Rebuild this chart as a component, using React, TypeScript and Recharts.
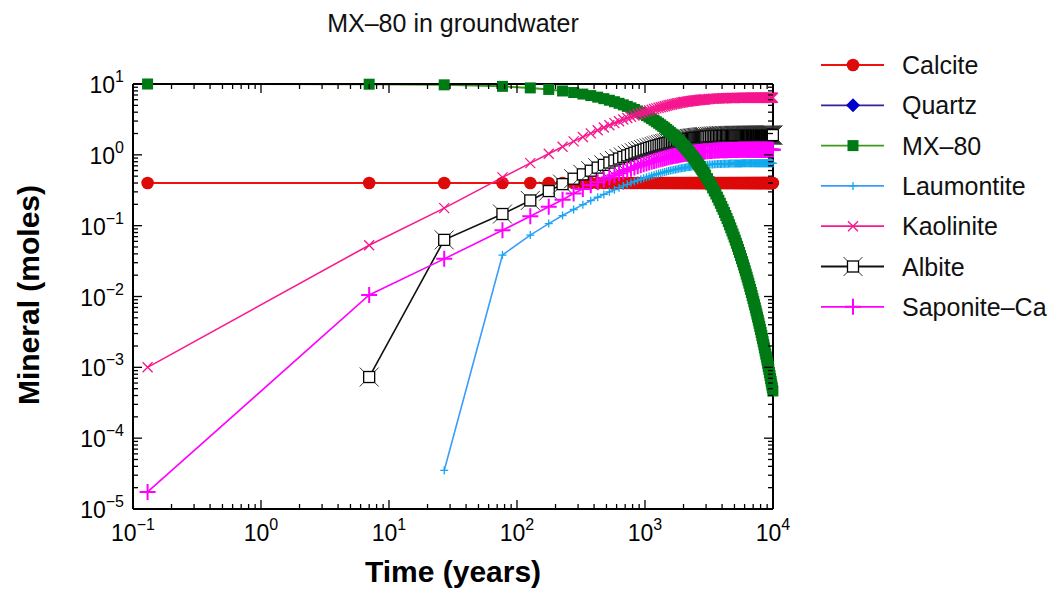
import React from 'react';
import { LineChart, Line, XAxis, YAxis } from 'recharts';

const FONT = '"Liberation Sans", Arial, Helvetica, sans-serif';

// Time (years)
const TIMES = [
  0.13, 7, 27,
  77, 127, 177, 227, 277, 327, 377, 427, 477, 527, 577, 627, 677, 727, 777, 827, 877, 927, 977,
  1027, 1077, 1127, 1177, 1227, 1277, 1327, 1377, 1427, 1477, 1527, 1577, 1627, 1677, 1727, 1777, 1827, 1877, 1927, 1977,
  2027, 2077, 2127, 2177, 2227, 2277, 2327, 2377, 2427, 2477, 2527, 2577, 2627, 2677, 2727, 2777, 2827, 2877, 2927, 2977,
  3077, 3177, 3277, 3377, 3477, 3577, 3677, 3777, 3877, 3977,
  4077, 4177, 4277, 4377, 4477, 4577, 4677, 4777, 4877, 4977,
  5077, 5177, 5277, 5377, 5477, 5577, 5677, 5777, 5877, 5977,
  6077, 6177, 6277, 6377, 6477, 6577, 6677, 6777, 6877, 6977,
  7077, 7177, 7277, 7377, 7477, 7577, 7677, 7777, 7877, 7977,
  8077, 8177, 8277, 8377, 8477, 8577, 8677, 8777, 8877, 8977,
  9077, 9177, 9277, 9377, 9477, 9577, 9677, 9777, 9877, 9977,
];

const CALCITE = [
  0.4, 0.4, 0.4,
  0.4, 0.4, 0.4, 0.4, 0.4, 0.4, 0.4, 0.4, 0.4, 0.4, 0.4, 0.4, 0.4, 0.4, 0.4, 0.4, 0.4, 0.4, 0.4,
  0.4, 0.4, 0.4, 0.4, 0.4, 0.4, 0.4, 0.4, 0.4, 0.4, 0.4, 0.4, 0.4, 0.4, 0.4, 0.4, 0.4, 0.4, 0.4, 0.4,
  0.4, 0.4, 0.4, 0.4, 0.4, 0.4, 0.4, 0.4, 0.4, 0.4, 0.4, 0.4, 0.4, 0.4, 0.4, 0.4, 0.4, 0.4, 0.4, 0.4,
  0.4, 0.4, 0.4, 0.4, 0.4, 0.4, 0.4, 0.4, 0.4, 0.4,
  0.4, 0.4, 0.4, 0.4, 0.4, 0.4, 0.4, 0.4, 0.4, 0.4,
  0.4, 0.4, 0.4, 0.4, 0.4, 0.4, 0.4, 0.4, 0.4, 0.4,
  0.4, 0.4, 0.4, 0.4, 0.4, 0.4, 0.4, 0.4, 0.4, 0.4,
  0.4, 0.4, 0.4, 0.4, 0.4, 0.4, 0.4, 0.4, 0.4, 0.4,
  0.4, 0.4, 0.4, 0.4, 0.4, 0.4, 0.4, 0.4, 0.4, 0.4,
  0.4, 0.4, 0.4, 0.4, 0.4, 0.4, 0.4, 0.4, 0.4, 0.4,
];

const MX80 = [
  10.0, 9.93, 9.73,
  9.26, 8.81, 8.38, 7.97, 7.58, 7.21, 6.86, 6.52, 6.21, 5.90, 5.62, 5.34, 5.08, 4.83, 4.60, 4.37, 4.16, 3.96, 3.76,
  3.58, 3.41, 3.24, 3.08, 2.93, 2.79, 2.65, 2.52, 2.40, 2.28, 2.17, 2.07, 1.97, 1.87, 1.78, 1.69, 1.61, 1.53, 1.46, 1.38,
  1.32, 1.25, 1.19, 1.13, 1.08, 1.03, 0.976, 0.928, 0.883, 0.840, 0.799, 0.760, 0.723, 0.688, 0.654, 0.622, 0.592, 0.563, 0.536, 0.509,
  0.461, 0.417, 0.377, 0.341, 0.309, 0.280, 0.253, 0.229, 0.207, 0.187,
  0.170, 0.153, 0.139, 0.126, 0.114, 0.103, 0.0931, 0.0842, 0.0762, 0.0689,
  0.0624, 0.0564, 0.0511, 0.0462, 0.0418, 0.0378, 0.0342, 0.0310, 0.0280, 0.0253,
  0.0230, 0.0207, 0.0188, 0.0170, 0.0154, 0.0139, 0.0126, 0.0114, 0.0103, 0.00933,
  0.00844, 0.00764, 0.00691, 0.00625, 0.00566, 0.00512, 0.00463, 0.00419, 0.00379, 0.00343,
  0.00311, 0.00281, 0.00254, 0.00230, 0.00208, 0.00188, 0.00170, 0.00154, 0.00140, 0.00126,
  0.00114, 0.00103, 0.000936, 0.000845, 0.000766, 0.000692, 0.000627, 0.000566, 0.000513, 0.000464,
];

const LAUMONTITE = [
  null, null, 0.000035,
  0.0385, 0.0737, 0.107, 0.139, 0.169, 0.198, 0.225, 0.252, 0.276, 0.300, 0.322, 0.344, 0.364, 0.383, 0.402, 0.419, 0.436, 0.452, 0.467,
  0.481, 0.495, 0.508, 0.520, 0.532, 0.543, 0.553, 0.563, 0.573, 0.582, 0.591, 0.599, 0.607, 0.614, 0.621, 0.628, 0.635, 0.641, 0.647, 0.652,
  0.657, 0.662, 0.667, 0.672, 0.676, 0.680, 0.684, 0.688, 0.691, 0.695, 0.698, 0.701, 0.704, 0.706, 0.709, 0.712, 0.714, 0.716, 0.718, 0.720,
  0.724, 0.728, 0.731, 0.733, 0.736, 0.738, 0.740, 0.742, 0.744, 0.745,
  0.747, 0.748, 0.749, 0.750, 0.751, 0.752, 0.753, 0.753, 0.754, 0.755,
  0.755, 0.756, 0.756, 0.756, 0.757, 0.757, 0.757, 0.758, 0.758, 0.758,
  0.758, 0.759, 0.759, 0.759, 0.759, 0.759, 0.759, 0.759, 0.759, 0.759,
  0.759, 0.760, 0.760, 0.760, 0.760, 0.760, 0.760, 0.760, 0.760, 0.760,
  0.760, 0.760, 0.760, 0.760, 0.760, 0.760, 0.760, 0.760, 0.760, 0.760,
  0.760, 0.760, 0.760, 0.760, 0.760, 0.760, 0.760, 0.760, 0.760, 0.760,
];

const KAOLINITE = [
  0.00100, 0.053, 0.177,
  0.48, 0.763, 1.038, 1.30, 1.548, 1.785, 2.010, 2.224, 2.428, 2.622, 2.806, 2.981, 3.148, 3.306, 3.457, 3.601, 3.737, 3.867, 3.991,
  4.108, 4.220, 4.326, 4.427, 4.524, 4.615, 4.702, 4.785, 4.864, 4.939, 5.010, 5.078, 5.142, 5.204, 5.262, 5.317, 5.370, 5.420, 5.468, 5.514,
  5.557, 5.598, 5.637, 5.674, 5.710, 5.743, 5.775, 5.806, 5.835, 5.862, 5.889, 5.914, 5.937, 5.960, 5.981, 6.002, 6.021, 6.040, 6.057, 6.074,
  6.105, 6.133, 6.158, 6.181, 6.202, 6.221, 6.238, 6.254, 6.267, 6.280,
  6.291, 6.302, 6.311, 6.320, 6.327, 6.334, 6.340, 6.346, 6.351, 6.356,
  6.360, 6.364, 6.367, 6.370, 6.373, 6.376, 6.378, 6.380, 6.382, 6.384,
  6.385, 6.387, 6.388, 6.389, 6.390, 6.391, 6.392, 6.393, 6.393, 6.394,
  6.395, 6.395, 6.396, 6.396, 6.396, 6.397, 6.397, 6.397, 6.398, 6.398,
  6.398, 6.398, 6.398, 6.398, 6.399, 6.399, 6.399, 6.399, 6.399, 6.399,
  6.399, 6.399, 6.399, 6.399, 6.400, 6.400, 6.400, 6.400, 6.400, 6.400,
];

const ALBITE = [
  null, 0.00073, 0.063,
  0.146, 0.227, 0.308, 0.386, 0.460, 0.530, 0.597, 0.660, 0.721, 0.778, 0.833, 0.885, 0.934, 0.982, 1.026, 1.069, 1.110, 1.148, 1.185,
  1.220, 1.253, 1.284, 1.314, 1.343, 1.370, 1.396, 1.421, 1.444, 1.466, 1.487, 1.507, 1.527, 1.545, 1.562, 1.579, 1.594, 1.609, 1.623, 1.637,
  1.650, 1.662, 1.674, 1.685, 1.695, 1.705, 1.715, 1.724, 1.732, 1.740, 1.748, 1.756, 1.763, 1.769, 1.776, 1.782, 1.788, 1.793, 1.798, 1.803,
  1.812, 1.821, 1.828, 1.835, 1.841, 1.847, 1.852, 1.857, 1.861, 1.864,
  1.868, 1.871, 1.874, 1.876, 1.878, 1.880, 1.882, 1.884, 1.886, 1.887,
  1.888, 1.889, 1.890, 1.891, 1.892, 1.893, 1.893, 1.894, 1.895, 1.895,
  1.896, 1.896, 1.896, 1.897, 1.897, 1.897, 1.898, 1.898, 1.898, 1.898,
  1.898, 1.899, 1.899, 1.899, 1.899, 1.899, 1.899, 1.899, 1.899, 1.899,
  1.899, 1.899, 1.900, 1.900, 1.900, 1.900, 1.900, 1.900, 1.900, 1.900,
  1.900, 1.900, 1.900, 1.900, 1.900, 1.900, 1.900, 1.900, 1.900, 1.900,
];

const SAPONITE = [
  0.0000174, 0.0105, 0.034,
  0.086, 0.136, 0.185, 0.232, 0.285, 0.329, 0.371, 0.410, 0.448, 0.483, 0.517, 0.550, 0.580, 0.610, 0.637, 0.664, 0.689, 0.713, 0.736,
  0.757, 0.778, 0.798, 0.816, 0.834, 0.851, 0.867, 0.882, 0.897, 0.911, 0.924, 0.936, 0.948, 0.959, 0.970, 0.980, 0.990, 0.999, 1.008, 1.017,
  1.025, 1.032, 1.039, 1.046, 1.053, 1.059, 1.065, 1.070, 1.076, 1.081, 1.086, 1.090, 1.095, 1.099, 1.103, 1.107, 1.110, 1.114, 1.117, 1.120,
  1.126, 1.131, 1.135, 1.140, 1.144, 1.147, 1.150, 1.153, 1.156, 1.158,
  1.160, 1.162, 1.164, 1.165, 1.167, 1.168, 1.169, 1.170, 1.171, 1.172,
  1.173, 1.173, 1.174, 1.175, 1.175, 1.176, 1.176, 1.176, 1.177, 1.177,
  1.177, 1.178, 1.178, 1.178, 1.178, 1.178, 1.179, 1.179, 1.179, 1.179,
  1.179, 1.179, 1.179, 1.179, 1.179, 1.179, 1.179, 1.179, 1.179, 1.179,
  1.179, 1.179, 1.180, 1.180, 1.180, 1.180, 1.180, 1.180, 1.180, 1.180,
  1.180, 1.180, 1.180, 1.180, 1.180, 1.180, 1.180, 1.180, 1.180, 1.180,
];

const X_MAJOR = [0.1, 1, 10, 100, 1000, 10000];
const Y_MAJOR = [1e-5, 1e-4, 1e-3, 1e-2, 1e-1, 1, 10];
const MINOR_STEPS = [2, 3, 4, 5, 6, 7, 8, 9];

const TITLE = 'MX–80 in groundwater';
const X_TITLE = 'Time (years)';
const Y_TITLE = 'Mineral (moles)';

type Shape = 'circle' | 'diamond' | 'square' | 'smallPlus' | 'cross' | 'albite' | 'bigPlus';

const SERIES: { key: string; name: string; line: string; shape: Shape }[] = [
  { key: 'calcite', name: 'Calcite', line: '#f01010', shape: 'circle' },
  { key: 'quartz', name: 'Quartz', line: '#3a1e9c', shape: 'diamond' },
  { key: 'mx80', name: 'MX–80', line: '#3c9a1c', shape: 'square' },
  { key: 'laumontite', name: 'Laumontite', line: '#3a9cff', shape: 'smallPlus' },
  { key: 'kaolinite', name: 'Kaolinite', line: '#fa1a8e', shape: 'cross' },
  { key: 'albite', name: 'Albite', line: '#111111', shape: 'albite' },
  { key: 'saponite', name: 'Saponite–Ca', line: '#ff00ff', shape: 'bigPlus' },
];

const data = TIMES.map((t, i) => ({
  t,
  calcite: CALCITE[i],
  mx80: MX80[i],
  laumontite: LAUMONTITE[i],
  kaolinite: KAOLINITE[i],
  albite: ALBITE[i],
  saponite: SAPONITE[i],
}));

function withMinor(majors: number[]) {
  const out: number[] = [];
  majors.forEach((m, i) => {
    out.push(m);
    if (i < majors.length - 1) MINOR_STEPS.forEach((k) => out.push(m * k));
  });
  return out;
}
const X_TICKS = withMinor(X_MAJOR);
const Y_TICKS = withMinor(Y_MAJOR);

const isMajor = (v: number) => {
  const l = Math.log10(v);
  return Math.abs(l - Math.round(l)) < 1e-9;
};
const expStr = (v: number) => {
  const e = Math.round(Math.log10(v));
  return e < 0 ? '−' + -e : String(e);
};

const MAJ = 9;
const MIN = 5;
const TICK_W = 1.3;

function XBottomTick(p: any) {
  const { x, y, payload } = p;
  const v = payload.value;
  const maj = isMajor(v);
  return (
    <g>
      <line x1={x} x2={x} y1={y} y2={y - (maj ? MAJ : MIN)} stroke="#000" strokeWidth={TICK_W} />
      {maj && (
        <text x={x} y={y + 32} textAnchor="middle" fontSize={23} fontFamily={FONT} fill="#000">
          10<tspan dy={-11} fontSize={16}>{expStr(v)}</tspan>
        </text>
      )}
    </g>
  );
}
function XTopTick(p: any) {
  const { x, y, payload } = p;
  const maj = isMajor(payload.value);
  return <line x1={x} x2={x} y1={y} y2={y + (maj ? MAJ : MIN)} stroke="#000" strokeWidth={TICK_W} />;
}
function YLeftTick(p: any) {
  const { x, y, payload } = p;
  const v = payload.value;
  const maj = isMajor(v);
  return (
    <g>
      <line x1={x} x2={x + (maj ? MAJ : MIN)} y1={y} y2={y} stroke="#000" strokeWidth={TICK_W} />
      {maj && (
        <text x={x - 9} y={y + 9} textAnchor="end" fontSize={23} fontFamily={FONT} fill="#000">
          10<tspan dy={-11} fontSize={16}>{expStr(v)}</tspan>
        </text>
      )}
    </g>
  );
}
function YRightTick(p: any) {
  const { x, y, payload } = p;
  const maj = isMajor(payload.value);
  return <line x1={x} x2={x - (maj ? MAJ : MIN)} y1={y} y2={y} stroke="#000" strokeWidth={TICK_W} />;
}

function marker(shape: Shape, cx: number, cy: number, key?: any) {
  switch (shape) {
    case 'circle':
      return <circle key={key} cx={cx} cy={cy} r={6.3} fill="#dd0a0a" />;
    case 'diamond':
      return <path key={key} d={`M${cx},${cy - 7}L${cx + 7},${cy}L${cx},${cy + 7}L${cx - 7},${cy}Z`} fill="#0000cc" />;
    case 'square':
      return <rect key={key} x={cx - 5.5} y={cy - 5.5} width={11} height={11} fill="#007a14" />;
    case 'smallPlus':
      return (
        <path key={key} d={`M${cx - 4},${cy}H${cx + 4}M${cx},${cy - 4}V${cy + 4}`} stroke="#12a8f0" strokeWidth={1.3} fill="none" />
      );
    case 'cross':
      return (
        <path
          key={key}
          d={`M${cx - 5},${cy - 5}L${cx + 5},${cy + 5}M${cx - 5},${cy + 5}L${cx + 5},${cy - 5}`}
          stroke="#f5168e"
          strokeWidth={1.3}
          fill="none"
        />
      );
    case 'albite':
      return (
        <g key={key}>
          <rect x={cx - 5.5} y={cy - 5.5} width={11} height={11} fill="#fff" stroke="#000" strokeWidth={1.3} />
          <path
            d={`M${cx - 5.5},${cy - 5.5}l-4,-4M${cx + 5.5},${cy - 5.5}l4,-4M${cx - 5.5},${cy + 5.5}l-4,4M${cx + 5.5},${cy + 5.5}l4,4`}
            stroke="#333"
            strokeWidth={1}
          />
        </g>
      );
    case 'bigPlus':
      return (
        <path key={key} d={`M${cx - 8},${cy}H${cx + 8}M${cx},${cy - 8}V${cy + 8}`} stroke="#ff00ff" strokeWidth={2} fill="none" />
      );
  }
  return null;
}

const dotFor = (shape: Shape) => (props: any) => {
  const { cx, cy, value, index } = props;
  if (value == null || cx == null || cy == null || Number.isNaN(cx) || Number.isNaN(cy)) return <g key={`e${index}`} />;
  return marker(shape, cx, cy, `d${index}`);
};

const W = 1040;
const H = 578;
// plot area: left 125, top 76, right 765, bottom 501 (inside the chart)
const MARGIN = { top: 75, right: 274, bottom: 17, left: 45 };
const AXIS_LINE = { stroke: '#000', strokeWidth: 2 };

const LINE_ORDER = ['calcite', 'laumontite', 'albite', 'saponite', 'mx80', 'kaolinite'];

export default function App() {
  const legendX0 = 813;
  const legendY0 = 57;
  const legendStep = 40.3;
  return (
    <div style={{ position: 'relative', width: W, height: 588, marginBottom: -8 }}>
      <LineChart width={W} height={H} data={data} margin={MARGIN}>
        <XAxis
          xAxisId="b"
          dataKey="t"
          type="number"
          scale="log"
          domain={[0.1, 10000]}
          ticks={X_TICKS}
          interval={0}
          height={60}
          tickSize={0}
          tickMargin={0}
          tickLine={false}
          axisLine={AXIS_LINE}
          tick={XBottomTick}
        />
        <XAxis
          xAxisId="t"
          dataKey="t"
          orientation="top"
          type="number"
          scale="log"
          domain={[0.1, 10000]}
          allowDataOverflow
          ticks={X_TICKS}
          interval={0}
          height={1}
          tickSize={0}
          tickMargin={0}
          tickLine={false}
          axisLine={AXIS_LINE}
          tick={XTopTick}
        />
        <YAxis
          yAxisId="l"
          type="number"
          scale="log"
          domain={[1e-5, 10]}
          ticks={Y_TICKS}
          interval={0}
          width={80}
          tickSize={0}
          tickMargin={0}
          tickLine={false}
          axisLine={AXIS_LINE}
          tick={YLeftTick}
        />
        <YAxis
          yAxisId="r"
          orientation="right"
          type="number"
          scale="log"
          domain={[1e-5, 10]}
          allowDataOverflow
          ticks={Y_TICKS}
          interval={0}
          width={1}
          tickSize={0}
          tickMargin={0}
          tickLine={false}
          axisLine={AXIS_LINE}
          tick={YRightTick}
        />
        <Line
          xAxisId="t"
          yAxisId="r"
          dataKey="calcite"
          stroke="none"
          strokeWidth={0}
          dot={false}
          activeDot={false}
          legendType="none"
          isAnimationActive={false}
        />
        {LINE_ORDER.map((k) => {
          const s = SERIES.find((x) => x.key === k)!;
          return (
            <Line
              key={k}
              xAxisId="b"
              yAxisId="l"
              type="linear"
              dataKey={k}
              name={s.name}
              stroke={s.line}
              strokeWidth={k === 'mx80' || k === 'calcite' ? 2 : 1.6}
              dot={dotFor(s.shape)}
              activeDot={false}
              isAnimationActive={false}
              connectNulls={false}
            />
          );
        })}
      </LineChart>
      <svg
        width={1049}
        height={588}
        style={{ position: 'absolute', left: 0, top: 0, pointerEvents: 'none' }}
        fontFamily={FONT}
      >
        <text x={445} y={23.5} textAnchor="middle" fontSize={25} fill="#111">
          {TITLE}
        </text>
        <text x={445} y={574} textAnchor="middle" fontSize={30} fontWeight="bold" fill="#000">
          {X_TITLE}
        </text>
        <text
          x={20}
          y={287}
          textAnchor="middle"
          dominantBaseline="central"
          fontSize={30}
          fontWeight="bold"
          fill="#000"
          transform="rotate(-90 20 287)"
        >
          {Y_TITLE}
        </text>
        {SERIES.map((s, i) => {
          const y = legendY0 + i * legendStep;
          return (
            <g key={s.key}>
              <line x1={legendX0} x2={legendX0 + 63} y1={y} y2={y} stroke={s.line} strokeWidth={1.8} />
              {marker(s.shape, legendX0 + 32, y)}
              <text x={legendX0 + 81} y={y + 9} fontSize={25} fill="#111">
                {s.name}
              </text>
            </g>
          );
        })}
      </svg>
    </div>
  );
}
